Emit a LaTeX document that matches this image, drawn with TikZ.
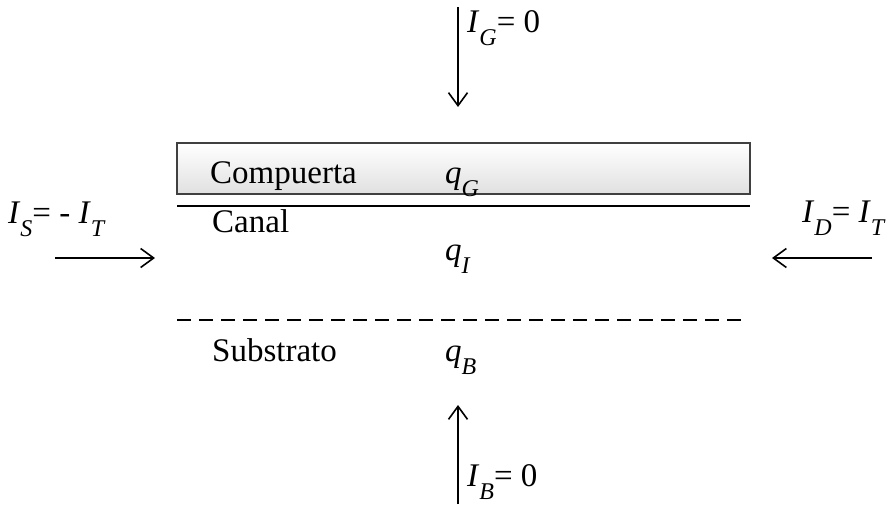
\documentclass[tikz,border=0pt]{standalone}
\usepackage{fontspec}
\setmainfont{Liberation Serif}
\usetikzlibrary{arrows.meta}
\newcommand{\cur}[2]{\textit{#1}\raisebox{-0.4em}{\fontsize{24}{26}\selectfont\textit{#2}}}

\begin{document}
\begin{tikzpicture}[x=1pt, y=-1pt, font=\fontsize{33}{38}\selectfont,
    lbl/.style={anchor=base west, inner sep=0pt},
    arr/.style={line width=1.5pt, -{Straight Barb[length=13pt, width=19pt, line width=1.6pt]}},
    gatebox/.style={draw=black!75, line width=1.4pt, top color=white, bottom color=black!12, minimum width=573pt, minimum height=51pt, inner sep=0pt}]
    \useasboundingbox (0,0) rectangle (888,504);

    \node[gatebox] (gate) at (463.5,168.5) {};
    \draw[line width=2.7pt] (177,206) coordinate (ch0) -- (750,206) coordinate (ch1);
    \draw[line width=2.4pt, dash pattern=on 14pt off 8pt] (177,320) coordinate (sb0) -- (745,320) coordinate (sb1);

    \node[lbl] (tgate) at (210,183) {Compuerta};
    \node[lbl] (qg) at (445,183) {\cur{q}{G}};
    \node[lbl] (tch) at (212,232) {Canal};
    \node[lbl] (qi) at (445,260) {\cur{q}{I}};
    \node[lbl] (tsub) at (212,361) {Substrato};
    \node[lbl] (qb) at (445,361) {\cur{q}{B}};

    \node[lbl] (is) at (8,223) {\cur{I}{S}= - \cur{I}{T}};
    \node[lbl] (id) at (802,222) {\cur{I}{D}= \cur{I}{T}};
    \node[lbl] (ig) at (467,32) {\cur{I}{G}= 0};
    \node[lbl] (ib) at (467,486) {\cur{I}{B}= 0};

    \coordinate (g0) at (458,7);
    \coordinate (g1) at (458,107);
    \coordinate (b0) at (458,504);
    \coordinate (b1) at (458,405);
    \coordinate (s0) at (55,258);
    \coordinate (s1) at (155,258);
    \coordinate (d0) at (872,258);
    \coordinate (d1) at (772,258);
    \draw[arr] (g0) -- (g1);
    \draw[arr] (b0) -- (b1);
    \draw[arr] (s0) -- (s1);
    \draw[arr] (d0) -- (d1);
\end{tikzpicture}
\end{document}
